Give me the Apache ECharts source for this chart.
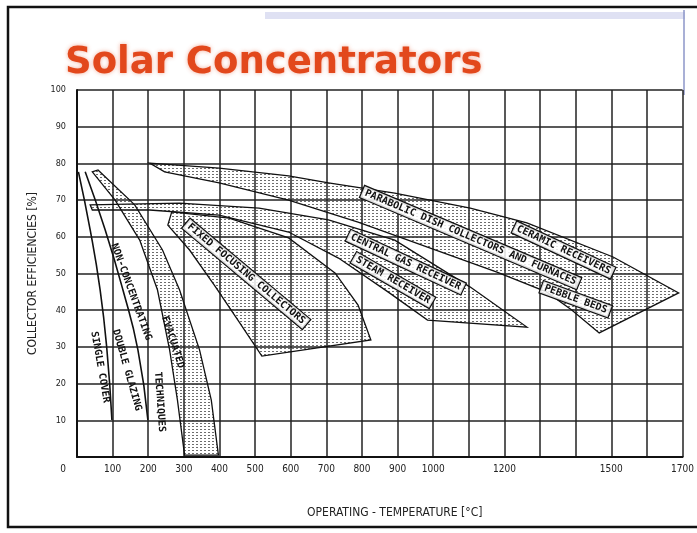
<!DOCTYPE html>
<html>
<head>
<meta charset="utf-8">
<script src="https://cdn.jsdelivr.net/npm/echarts@6/dist/echarts.min.js"></script>
<style>
  html, body { margin: 0; padding: 0; background: #fff; }
  #chart { width: 697px; height: 533px; }
</style>
</head>
<body>
<div id="chart"></div>
<script>
// tick labels actually written on the temperature axis
const xTickLabels = [0, 100, 200, 300, 400, 500, 600, 700, 800, 900, 1000, 1200, 1500, 1700];

// single curves (temperature degC, efficiency %)
const singleCover = [[4, 77.7], [37, 61.9], [65, 45.5], [84, 29.2], [98, 10.1]];
const doubleGlazing = [[23, 77.7], [79, 61.9], [129, 45.5], [171, 29.2], [199, 10.1]];

// shaded bands, outline points
const evacuatedBand = [
    [59, 78.2], [162, 68.7], [240, 56.4], [288, 45.5], [344, 29.2], [377, 15.5], [397, 0.5],
    [302, 0.5], [282, 15.5], [260, 29.2], [226, 45.5], [176, 59.1], [107, 70.0], [43, 77.7]
];
const fixedFocusingBand = [
    [266, 66.8], [427, 65.1], [594, 59.7], [725, 50.1], [789, 41.4], [825, 31.9],
    [519, 27.5], [455, 36.8], [385, 46.9], [316, 56.4], [255, 63.2]
];
const centralReceiverBand = [
    [37, 68.7], [288, 69.2], [511, 67.8], [706, 64.6], [892, 59.1], [1104, 46.3], [1263, 35.4],
    [984, 37.3], [873, 45.0], [734, 54.2], [594, 61.3], [399, 65.9], [204, 67.3], [43, 67.3]
];
const parabolicDishBand = [
    [204, 80.1], [399, 78.7], [594, 76.6], [706, 74.7], [892, 71.9], [1104, 67.8], [1263, 63.8],
    [1505, 54.5], [1689, 44.7],
    [1466, 33.8], [1388, 40.1], [1318, 45.0], [1179, 50.4], [984, 57.2], [789, 64.0],
    [594, 70.0], [399, 74.7], [246, 77.7]
];

// hand lettering inside the chart: [text, temperature, efficiency, angle deg, boxed]
const bandLabels = [
    ['SINGLE COVER', 65, 24.5, -80, false],
    ['DOUBLE GLAZING', 140, 23.7, -74, false],
    ['NON-CONCENTRATING', 152, 45.0, -70, false],
    ['TECHNIQUES', 232, 15.0, -86, false],
    ['EVACUATED', 269, 31.3, -72, false],
    ['FIXED FOCUSING COLLECTORS', 475, 49.9, -40, true],
    ['CENTRAL GAS RECEIVER', 923, 53.1, -25, true],
    ['STEAM RECEIVER', 887, 48.2, -30, true],
    ['PARABOLIC DISH COLLECTORS AND FURNACES', 1105, 59.8, -23, true],
    ['CERAMIC RECEIVERS', 1366, 56.4, -25, true],
    ['PEBBLE BEDS', 1400, 43.0, -20, true]
];

// stipple texture like the scanned shading
function makeStipple() {
    const c = document.createElement('canvas');
    c.width = 4; c.height = 3;
    const ctx = c.getContext('2d');
    ctx.fillStyle = 'rgba(60,60,60,0.75)';
    ctx.fillRect(0, 0, 2, 1);
    return c;
}
const stipple = makeStipple();

function bandSeries(name, points) {
    return {
        name: name,
        type: 'custom',
        coordinateSystem: 'cartesian2d',
        z: 2,
        silent: true,
        data: [0],
        renderItem: function (params, api) {
            return {
                type: 'polygon',
                shape: { points: points.map(function (p) { return api.coord(p); }) },
                style: {
                    fill: { image: stipple, repeat: 'repeat' },
                    stroke: '#111',
                    lineWidth: 1.3
                }
            };
        }
    };
}

function curveSeries(name, points) {
    return {
        name: name,
        type: 'line',
        data: points,
        smooth: true,
        symbol: 'none',
        z: 3,
        lineStyle: { color: '#111', width: 1.6 }
    };
}

const labelSeries = {
    name: 'labels',
    type: 'custom',
    coordinateSystem: 'cartesian2d',
    z: 5,
    silent: true,
    data: [0],
    renderItem: function (params, api) {
        return {
            type: 'group',
            children: bandLabels.map(function (l) {
                const pt = api.coord([l[1], l[2]]);
                const style = {
                    text: l[0],
                    x: 0, y: 0,
                    align: 'center',
                    verticalAlign: 'middle',
                    font: 'bold 10px "DejaVu Sans Mono"',
                    fill: '#111'
                };
                if (l[4]) {
                    style.backgroundColor = 'rgba(255,255,255,0.85)';
                    style.borderColor = '#111';
                    style.borderWidth = 1.2;
                    style.padding = [1, 3];
                }
                return {
                    type: 'text',
                    x: pt[0], y: pt[1],
                    rotation: l[3] * Math.PI / 180,
                    style: style
                };
            })
        };
    }
};

const chart = echarts.init(document.getElementById('chart'), null, { renderer: 'canvas' });

const option = {
    backgroundColor: '#fff',
    animation: false,
    title: {
        text: 'Solar Concentrators',
        left: 60,
        top: 40,
        textStyle: {
            fontFamily: 'DejaVu Sans',
            fontWeight: 'bold',
            fontSize: 37,
            color: '#e2481c',
            textShadowColor: 'rgba(226,72,28,0.45)',
            textShadowBlur: 4
        }
    },
    graphic: [
        // slide frame and template decoration
        { type: 'rect', z: -10, shape: { x: 8, y: 7, width: 700, height: 520 },
          style: { fill: 'none', stroke: '#111', lineWidth: 2.5 } },
        { type: 'rect', z: -10, shape: { x: 265, y: 12, width: 420, height: 7 },
          style: { fill: '#dfe1f3' } },
        { type: 'line', z: -10, shape: { x1: 684, y1: 10, x2: 684, y2: 95 },
          style: { stroke: '#8c96c8', lineWidth: 1.5 } }
    ],
    grid: { left: 77, right: 10, top: 90, bottom: 76, containLabel: false },
    xAxis: {
        type: 'value',
        min: 0, max: 1700, interval: 100,
        name: 'OPERATING - TEMPERATURE [°C]',
        nameLocation: 'middle',
        nameGap: 50,
        nameTextStyle: {
            fontFamily: 'DejaVu Sans Condensed', fontSize: 12, color: '#222', padding: [0, 0, 0, 30]
        },
        axisLine: { lineStyle: { color: '#111', width: 2 } },
        axisTick: { show: false },
        splitLine: { lineStyle: { color: '#222', width: 1.5 } },
        axisLabel: {
            color: '#222',
            fontFamily: 'DejaVu Sans Condensed',
            fontSize: 10,
            margin: 7,
            formatter: function (v) {
                if (v === 0) return '{o|0}';
                return xTickLabels.indexOf(v) >= 0 ? String(v) : '';
            },
            rich: { o: { padding: [0, 28, 0, 0], fontSize: 10, color: '#222' } }
        }
    },
    yAxis: {
        type: 'value',
        min: 0, max: 100, interval: 10,
        name: 'COLLECTOR EFFICIENCIES [%]',
        nameLocation: 'middle',
        nameGap: 38,
        nameRotate: 90,
        nameTextStyle: { fontFamily: 'DejaVu Sans Condensed', fontSize: 12, color: '#222' },
        axisLine: { show: true, lineStyle: { color: '#111', width: 2 } },
        axisTick: { show: false },
        splitLine: { lineStyle: { color: '#222', width: 1.5 } },
        axisLabel: {
            color: '#222',
            fontFamily: 'DejaVu Sans Condensed',
            fontSize: 9,
            margin: 11,
            formatter: function (v) { return v === 0 ? '' : String(v); }
        }
    },
    series: [
        bandSeries('Parabolic dish', parabolicDishBand),
        bandSeries('Central receiver', centralReceiverBand),
        bandSeries('Fixed focusing', fixedFocusingBand),
        bandSeries('Evacuated', evacuatedBand),
        curveSeries('Single cover', singleCover),
        curveSeries('Double glazing', doubleGlazing),
        labelSeries
    ]
};

chart.setOption(option);
</script>
</body>
</html>
